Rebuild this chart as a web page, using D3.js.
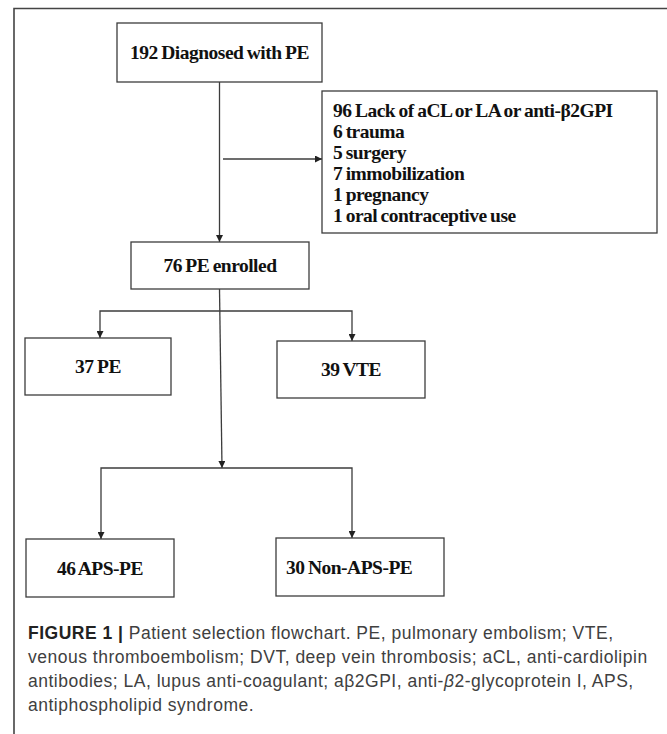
<!DOCTYPE html>
<meta charset="utf-8">
<style>
    body { margin: 0; background: #fff; }
    .box { fill: #fff; stroke: #3c3c3c; stroke-width: 1.3px; }
    .link { fill: none; stroke: #3c3c3c; stroke-width: 1.3px; }
    .node-label, .excl-label {
        font-family: "Liberation Serif", "Times New Roman", serif;
        font-weight: bold;
        font-size: 19.5px;
        fill: #111;
        letter-spacing: -0.5px;
        word-spacing: -1px;
    }
    .caption {
        font-family: "Liberation Sans", Arial, sans-serif;
        font-size: 17.5px;
        letter-spacing: 0.5px;
        fill: #404040;
    }
</style>
<body>
<svg width="667" height="734"></svg>
</body>
<script src="https://cdnjs.cloudflare.com/ajax/libs/d3/7.8.5/d3.min.js"></script>
<script>

    // flowchart content
    var nodeIds = ["diagnosed", "enrolled", "pe", "vte", "aps", "nonaps"];
    var nodeCounts = [192, 76, 37, 39, 46, 30];
    var nodeNames = ["Diagnosed with PE", "PE enrolled", "PE", "VTE", "APS-PE", "Non-APS-PE"];

    var exclCounts = [96, 6, 5, 7, 1, 1];
    var exclReasons = ["Lack of aCL or LA or anti-β2GPI", "trauma", "surgery", "immobilization", "pregnancy", "oral contraceptive use"];

    var captionLines = [
        [["FIGURE 1 | ", "bold"], ["Patient selection flowchart. PE, pulmonary embolism; VTE,", ""]],
        [["venous thromboembolism; DVT, deep vein thrombosis; aCL, anti-cardiolipin", ""]],
        [["antibodies; LA, lupus anti-coagulant; aβ2GPI, anti-", ""], ["β", "italic"], ["2-glycoprotein I, APS,", ""]],
        [["antiphospholipid syndrome.", ""]]
    ];

    var svg = d3.select("svg"),
        width = +svg.attr("width"),
        height = +svg.attr("height");

    // layout (pixel space of the figure)
    var layout = {
        diagnosed: {x0: 117, y0: 23, x1: 322, y1: 82, anchor: "middle"},
        enrolled:  {x0: 131, y0: 242, x1: 309, y1: 289, anchor: "middle"},
        pe:        {x0: 25, y0: 338, x1: 171, y1: 395, anchor: "middle"},
        vte:       {x0: 277, y0: 341, x1: 425, y1: 398, anchor: "middle"},
        aps:       {x0: 26, y0: 539, x1: 174, y1: 597, anchor: "middle"},
        nonaps:    {x0: 276, y0: 538, x1: 444, y1: 596, anchor: "start", pad: 10}
    };
    var exclBox = {x0: 322, y0: 91, x1: 657, y1: 233};

    var nodes = nodeIds.map(function (id, i) {
        return Object.assign({id: id, label: nodeCounts[i] + " " + nodeNames[i]}, layout[id]);
    });

    var lineY = d3.scalePoint()
        .domain(d3.range(exclCounts.length))
        .range([110, 215]);

    svg.append("defs").append("marker")
        .attr("id", "arrow")
        .attr("viewBox", "0 0 10 10")
        .attr("refX", 10)
        .attr("refY", 5)
        .attr("markerWidth", 7)
        .attr("markerHeight", 7)
        .attr("markerUnits", "userSpaceOnUse")
        .attr("orient", "auto")
        .append("path")
        .attr("d", "M0,0L10,5L0,10Z")
        .attr("fill", "#222");

    // frame of the figure panel
    svg.append("path")
        .attr("class", "link")
        .attr("d", "M14," + height + "V8.5H" + width)
        .style("stroke", "#444")
        .style("stroke-width", 1.6);

    // connectors
    var byId = {};
    nodes.forEach(function (n) { byId[n.id] = n; });
    var cx = function (n) { return (n.x0 + n.x1) / 2; };

    var trunkX = 219.5;
    var split1 = 311, split2 = 468;
    var peX = 100, vteX = 352;

    var arrows = [
        [[trunkX, byId.diagnosed.y1], [trunkX, byId.enrolled.y0]],
        [[223, 159], [exclBox.x0, 159]],
        [[trunkX, byId.enrolled.y1], [222, split2]],
        [[trunkX, split1], [peX, split1], [peX, byId.pe.y0]],
        [[trunkX, split1], [vteX, split1], [vteX, byId.vte.y0]],
        [[222, split2], [peX + 1, split2], [peX + 1, byId.aps.y0]],
        [[222, split2], [vteX, split2], [vteX, byId.nonaps.y0]]
    ];

    svg.append("g")
        .selectAll("path")
        .data(arrows)
        .enter().append("path")
        .attr("class", "link")
        .attr("d", d3.line())
        .attr("marker-end", "url(#arrow)");

    // boxes
    var g = svg.append("g")
        .selectAll("g")
        .data(nodes)
        .enter().append("g");

    g.append("rect")
        .attr("class", "box")
        .attr("x", function (d) { return d.x0; })
        .attr("y", function (d) { return d.y0; })
        .attr("width", function (d) { return d.x1 - d.x0; })
        .attr("height", function (d) { return d.y1 - d.y0; });

    g.append("text")
        .attr("class", "node-label")
        .attr("x", function (d) { return d.anchor === "start" ? d.x0 + d.pad : cx(d); })
        .attr("y", function (d) { return (d.y0 + d.y1) / 2; })
        .attr("dy", "0.35em")
        .style("text-anchor", function (d) { return d.anchor; })
        .text(function (d) { return d.label; });

    // exclusions box
    svg.append("rect")
        .attr("class", "box")
        .attr("x", exclBox.x0)
        .attr("y", exclBox.y0)
        .attr("width", exclBox.x1 - exclBox.x0)
        .attr("height", exclBox.y1 - exclBox.y0);

    svg.append("g")
        .selectAll("text")
        .data(exclCounts)
        .enter().append("text")
        .attr("class", "excl-label")
        .attr("x", exclBox.x0 + 11)
        .attr("y", function (d, i) { return lineY(i); })
        .attr("dy", "0.35em")
        .text(function (d, i) { return d + " " + exclReasons[i]; });

    // caption
    var capY = d3.scalePoint()
        .domain(d3.range(captionLines.length))
        .range([633, 705]);

    svg.append("g")
        .selectAll("text")
        .data(captionLines)
        .enter().append("text")
        .attr("class", "caption")
        .attr("x", 28)
        .attr("y", function (d, i) { return capY(i); })
        .attr("dy", "0.35em")
        .selectAll("tspan")
        .data(function (d) { return d; })
        .enter().append("tspan")
        .style("font-weight", function (d) { return d[1] === "bold" ? "bold" : null; })
        .style("font-style", function (d) { return d[1] === "italic" ? "italic" : null; })
        .style("fill", function (d) { return d[1] === "bold" ? "#222" : null; })
        .text(function (d) { return d[0]; });

</script>
